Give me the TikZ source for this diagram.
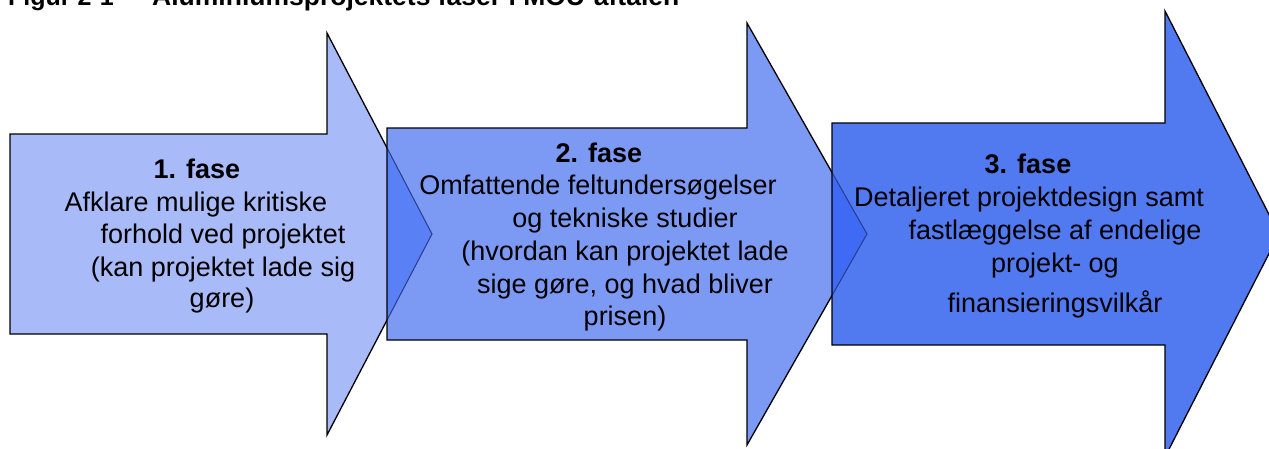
\documentclass[tikz,border=0pt]{standalone}
\usepackage{fontspec}
\setmainfont{Liberation Sans}
\definecolor{fillA}{RGB}{168,186,248}
\definecolor{fillB}{RGB}{124,154,244}
\definecolor{fillC}{RGB}{82,122,240}
\definecolor{overAB}{RGB}{90,128,245}
\definecolor{overBC}{RGB}{62,106,246}
\definecolor{hidden}{RGB}{40,60,140}
\begin{document}
\begin{tikzpicture}[x=1pt,y=-1pt,
  arrowshape/.style={draw=black,line width=1.3pt,line join=miter},
  lbl/.style={anchor=base,inner sep=0pt,font=\fontsize{27}{33}\selectfont},
  head/.style={anchor=base,inner sep=0pt,font=\fontsize{27}{33}\selectfont\bfseries},
  ttl/.style={anchor=base west,inner sep=0pt,font=\fontsize{25}{30}\selectfont\bfseries}]
\useasboundingbox (0,0) rectangle (1269,448);
\clip (0,0) rectangle (1269,448);
\def\arrA{(10,134) -- (327,134) -- (327,33) -- (432,234) -- (327,435) -- (327,334) -- (10,334) -- cycle}
\def\arrB{(387,128) -- (747,128) -- (747,23) -- (867,234) -- (747,445) -- (747,340) -- (387,340) -- cycle}
\def\arrC{(832,123) -- (1165,123) -- (1165,11) -- (1279,234) -- (1165,457) -- (1165,345) -- (832,345) -- cycle}
% title (cut off at the top)
\node[ttl] (t1) at (8,5) {Figur 2-1};
\node[ttl] (t2) at (123,5) {–};
\node[ttl] (t3) at (152,5) {\fontsize{26.5}{30}\selectfont Aluminiumsprojektets faser i MOU-aftalen};
% arrows
\fill[fillA] \arrA;
\draw[arrowshape] \arrA;
\fill[fillB] \arrB;
\begin{scope}
  \clip \arrB;
  \fill[overAB] \arrA;
  \draw[hidden,line width=1pt] \arrA;
\end{scope}
\draw[arrowshape] \arrB;
\fill[fillC] \arrC;
\begin{scope}
  \clip \arrC;
  \fill[overBC] \arrB;
  \draw[hidden,line width=1pt] \arrB;
\end{scope}
\draw[arrowshape] \arrC;
% texts, phase 1
\node[head] (a0) at (197,178) {1. fase};
\node[lbl] (a1) at (196,211) {Afklare mulige kritiske};
\node[lbl] (a2) at (223,243) {forhold ved projektet};
\node[lbl] (a3) at (223,276) {(kan projektet lade sig};
\node[lbl] (a4) at (222,307) {gøre)};
% phase 2
\node[head] (b0) at (599,162) {2. fase};
\node[lbl] (b1) at (598,194) {Omfattende feltundersøgelser};
\node[lbl] (b2) at (625,227) {og tekniske studier};
\node[lbl] (b3) at (625,260) {(hvordan kan projektet lade};
\node[lbl] (b4) at (625,293) {sige gøre, og hvad bliver};
\node[lbl] (b5) at (625,325) {prisen)};
% phase 3
\node[head] (c0) at (1028,173) {3. fase};
\node[lbl] (c1) at (1029,206) {Detaljeret projektdesign samt};
\node[lbl] (c2) at (1055,239) {fastlæggelse af endelige};
\node[lbl] (c3) at (1055,272) {projekt- og};
\node[lbl] (c4) at (1055,312) {finansieringsvilkår};
\end{tikzpicture}
\end{document}
